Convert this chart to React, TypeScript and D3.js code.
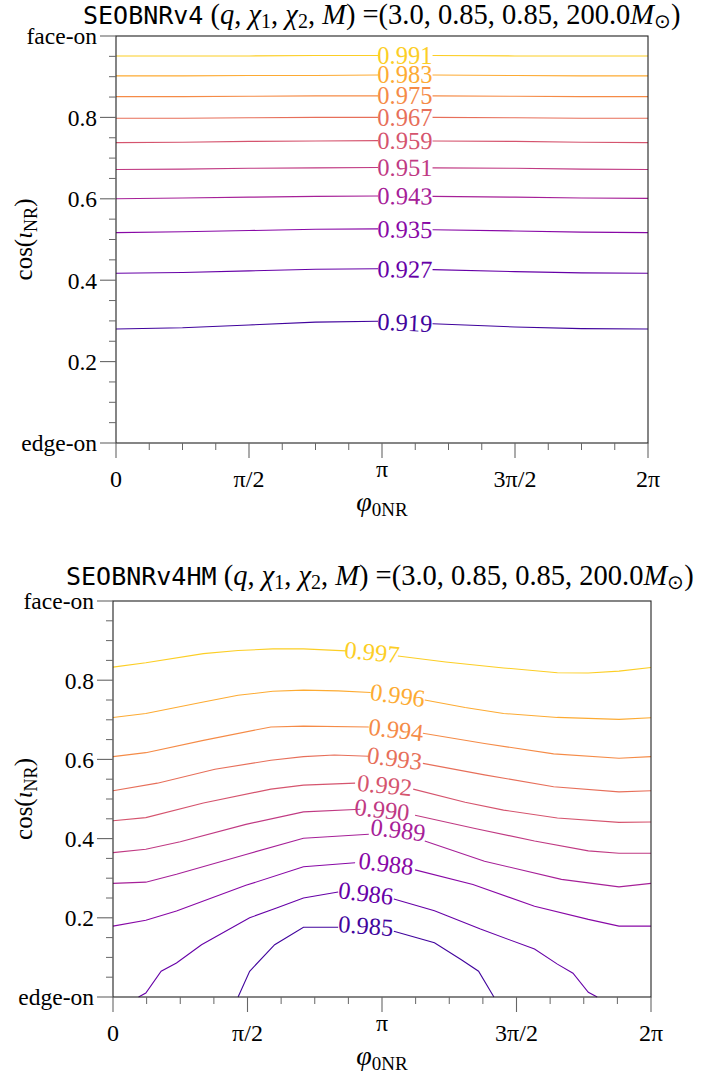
import React from "react";
import * as d3 from "d3";

type P = [number, number] | null;
const PI = Math.PI;

// ---------- Top panel (SEOBNRv4) ----------
const topLevels = [0.919, 0.927, 0.935, 0.943, 0.951, 0.959, 0.967, 0.975, 0.983, 0.991];
// phi samples in units of π; label gap lies between index 4 and 5
const topPhi = [0, 0.25, 0.5, 0.75, 0.985, 1.19, 1.5, 1.75, 2.0];
const topCos: number[][] = [
  [0.280, 0.283, 0.290, 0.297, 0.299, 0.293, 0.285, 0.281, 0.280],
  [0.417, 0.419, 0.423, 0.427, 0.428, 0.426, 0.421, 0.418, 0.417],
  [0.517, 0.519, 0.522, 0.525, 0.526, 0.524, 0.521, 0.518, 0.517],
  [0.600, 0.602, 0.604, 0.606, 0.607, 0.606, 0.604, 0.602, 0.601],
  [0.672, 0.673, 0.675, 0.676, 0.677, 0.676, 0.675, 0.673, 0.672],
  [0.738, 0.739, 0.741, 0.742, 0.743, 0.742, 0.741, 0.739, 0.738],
  [0.798, 0.798, 0.799, 0.800, 0.800, 0.800, 0.799, 0.798, 0.798],
  [0.851, 0.851, 0.852, 0.853, 0.853, 0.853, 0.852, 0.851, 0.851],
  [0.902, 0.902, 0.903, 0.903, 0.904, 0.904, 0.903, 0.902, 0.902],
  [0.951, 0.951, 0.951, 0.952, 0.952, 0.952, 0.951, 0.951, 0.951],
];
const topLabelPhi = [1.086, 1.086, 1.086, 1.086, 1.086, 1.086, 1.086, 1.086, 1.086, 1.086];
const topLabelCos = [0.296, 0.427, 0.525, 0.607, 0.677, 0.743, 0.800, 0.853, 0.904, 0.952];

// ---------- Bottom panel (SEOBNRv4HM) ----------
const botLevels = [0.985, 0.986, 0.988, 0.989, 0.990, 0.992, 0.993, 0.994, 0.996, 0.997];
// each contour: [phi/π, cos ι]; null marks the gap left for the inline label
const botLines: P[][] = [
  [[0.465, 0], [0.508, 0.065], [0.601, 0.132], [0.708, 0.176], [0.837, 0.176], null,
   [1.044, 0.166], [1.195, 0.137], [1.295, 0.094], [1.359, 0.065], [1.416, 0]],
  [[0.095, 0], [0.122, 0.010], [0.179, 0.065], [0.236, 0.086], [0.329, 0.132], [0.508, 0.200],
   [0.608, 0.225], [0.708, 0.250], [0.837, 0.265], null, [1.044, 0.2475], [1.195, 0.218],
   [1.366, 0.1715], [1.567, 0.121], [1.652, 0.083], [1.71, 0.060], [1.767, 0.012], [1.80, 0]],
  [[0, 0.179], [0.122, 0.194], [0.236, 0.217], [0.494, 0.282], [0.708, 0.329], [0.90, 0.339], null,
   [1.123, 0.321], [1.338, 0.284], [1.567, 0.229], [1.767, 0.196], [1.881, 0.179], [2.0, 0.179]],
  [[0, 0.287], [0.122, 0.290], [0.236, 0.310], [0.494, 0.360], [0.708, 0.401], [0.951, 0.411], null,
   [1.159, 0.394], [1.381, 0.343], [1.667, 0.297], [1.881, 0.278], [2.0, 0.287]],
  [[0, 0.3645], [0.122, 0.373], [0.25, 0.392], [0.494, 0.436], [0.708, 0.4675], [0.92, 0.474], null,
   [1.123, 0.459], [1.35, 0.425], [1.567, 0.394], [1.767, 0.369], [1.881, 0.363], [2.0, 0.363]],
  [[0, 0.445], [0.122, 0.453], [0.336, 0.490], [0.587, 0.525], [0.708, 0.535], [0.90, 0.540], null,
   [1.116, 0.525], [1.309, 0.492], [1.452, 0.472], [1.652, 0.452], [1.881, 0.441], [2.0, 0.442]],
  [[0, 0.521], [0.165, 0.540], [0.379, 0.575], [0.587, 0.598], [0.708, 0.607], [0.823, 0.611],
   [0.951, 0.608], null, [1.152, 0.590], [1.381, 0.561], [1.638, 0.531], [1.881, 0.518], [2.0, 0.521]],
  [[0, 0.607], [0.122, 0.617], [0.336, 0.648], [0.587, 0.682], [0.708, 0.684], [0.951, 0.682], null,
   [1.152, 0.666], [1.381, 0.640], [1.638, 0.614], [1.881, 0.603], [2.0, 0.607]],
  [[0, 0.706], [0.122, 0.716], [0.336, 0.745], [0.465, 0.762], [0.594, 0.772], [0.708, 0.775],
   [0.837, 0.773], [0.958, 0.769], null, [1.159, 0.750], [1.309, 0.731], [1.452, 0.716],
   [1.652, 0.706], [1.881, 0.701], [2.0, 0.705]],
  [[0, 0.833], [0.122, 0.844], [0.336, 0.867], [0.465, 0.875], [0.594, 0.879], [0.708, 0.879],
   [0.866, 0.874], null, [1.059, 0.861], [1.237, 0.846], [1.452, 0.831], [1.652, 0.819],
   [1.767, 0.818], [1.881, 0.823], [2.0, 0.832]],
];
const botLabelPhi = [0.94, 0.94, 1.015, 1.06, 1.0, 1.01, 1.047, 1.052, 1.058, 0.963];
const botLabelCos = [0.180, 0.262, 0.337, 0.422, 0.473, 0.535, 0.603, 0.675, 0.762, 0.871];

// ---------- Axes ----------
const yMajor = [0, 0.2, 0.4, 0.6, 0.8, 1.0];
const yMajorLabels = ["edge-on", "0.2", "0.4", "0.6", "0.8", "face-on"];
const yMinor = [0.05, 0.1, 0.15, 0.25, 0.3, 0.35, 0.45, 0.5, 0.55, 0.65, 0.7, 0.75, 0.85, 0.9, 0.95];
const xMajor = [0, 0.5, 1, 1.5, 2]; // units of π
const xMajorLabels = ["0", "π/2", "π", "3π/2", "2π"];
const xMinor = [0.125, 0.25, 0.375, 0.625, 0.75, 0.875, 1.125, 1.25, 1.375, 1.625, 1.75, 1.875];

const SERIF = "Liberation Serif";
const MONO = "DejaVu Sans Mono";

type PanelProps = {
  model: string;
  left: number; right: number; top: number; bottom: number;
  titleX: number;
  titleY: number;
  lines: P[][];
  levels: number[];
  labelPhi: number[];
  labelCos: number[];
};

function Panel(props: PanelProps) {
  const { model, left, right, top, bottom, titleX, titleY, lines, levels, labelPhi, labelCos } = props;
  const x = d3.scaleLinear().domain([0, 2 * PI]).range([left, right]);
  const y = d3.scaleLinear().domain([0, 1]).range([bottom, top]);
  const color = (i: number) => d3.interpolatePlasma(0.1 + (0.8 * i) / (levels.length - 1));
  const line = d3
    .line<P>()
    .defined((d) => d !== null)
    .x((d) => x((d as [number, number])[0] * PI))
    .y((d) => y((d as [number, number])[1]));
  const fmt = d3.format(".3f");
  const cx = (left + right) / 2;
  const cy = (top + bottom) / 2;
  const tickCol = "#666";
  const spineCol = "#222";

  return (
    <g style={{ fontFamily: SERIF }}>
      {/* title */}
      <text x={titleX} y={titleY} textAnchor="start" style={{ fontFamily: SERIF, fontSize: 28.5 }} fill="#000">
        <tspan style={{ fontFamily: MONO, fontSize: 25 }}>{model}</tspan>
        <tspan> (</tspan>
        <tspan fontStyle="italic">q</tspan>
        <tspan>, </tspan>
        <tspan fontStyle="italic">χ</tspan>
        <tspan fontSize={20} dy={4}>1</tspan>
        <tspan dy={-4}>, </tspan>
        <tspan fontStyle="italic">χ</tspan>
        <tspan fontSize={20} dy={4}>2</tspan>
        <tspan dy={-4}>, </tspan>
        <tspan fontStyle="italic">M</tspan>
        <tspan>) =(3.0, 0.85, 0.85, 200.0</tspan>
        <tspan fontStyle="italic">M</tspan>
        <tspan fontSize={20} dy={4}>⊙</tspan>
        <tspan dy={-4}>)</tspan>
      </text>

      {/* contour lines */}
      {lines.map((pts, i) => (
        <path key={"l" + i} d={line(pts) || ""} fill="none" stroke={color(i)} strokeWidth={1.1} />
      ))}
      {/* inline labels */}
      {lines.map((pts, i) => {
        const g = pts.indexOf(null);
        const a = pts[g - 1] as [number, number];
        const b = pts[g + 1] as [number, number];
        const ang =
          (Math.atan2(y(b[1]) - y(a[1]), x(b[0] * PI) - x(a[0] * PI)) * 180) / PI;
        const lx = x(labelPhi[i] * PI);
        const ly = y(labelCos[i]);
        return (
          <text
            key={"t" + i}
            transform={`translate(${lx},${ly}) rotate(${ang})`}
            textAnchor="middle"
            dy="0.34em"
            style={{ fontFamily: SERIF, fontSize: 24.5 }}
            fill={color(i)}
          >
            {fmt(levels[i])}
          </text>
        );
      })}

      {/* spines */}
      <rect x={left} y={top} width={right - left} height={bottom - top} fill="none" stroke={spineCol} strokeWidth={1.1} />

      {/* y ticks */}
      {yMajor.map((v, i) => (
        <g key={"ym" + i}>
          <line x1={left - 16} x2={left} y1={y(v)} y2={y(v)} stroke={tickCol} strokeWidth={1.1} />
          <text x={left - 19} y={y(v)} dy="0.36em" textAnchor="end" style={{ fontFamily: SERIF, fontSize: 23.5 }}>
            {yMajorLabels[i]}
          </text>
        </g>
      ))}
      {yMinor.map((v, i) => (
        <line key={"yn" + i} x1={left - 7} x2={left} y1={y(v)} y2={y(v)} stroke={tickCol} strokeWidth={1} />
      ))}

      {/* x ticks */}
      {xMajor.map((v, i) => (
        <g key={"xm" + i}>
          <line x1={x(v * PI)} x2={x(v * PI)} y1={bottom} y2={bottom + 15} stroke={tickCol} strokeWidth={1.1} />
          <text
            x={x(v * PI)}
            y={bottom + (xMajorLabels[i] === "π" ? 34 : 44)}
            textAnchor="middle"
            style={{ fontFamily: SERIF, fontSize: 24 }}
          >
            {xMajorLabels[i]}
          </text>
        </g>
      ))}
      {xMinor.map((v, i) => (
        <line key={"xn" + i} x1={x(v * PI)} x2={x(v * PI)} y1={bottom} y2={bottom + 7} stroke={tickCol} strokeWidth={1} />
      ))}

      {/* axis labels */}
      <text x={cx} y={bottom + 68} textAnchor="middle" style={{ fontFamily: SERIF, fontSize: 28 }}>
        <tspan fontStyle="italic">φ</tspan>
        <tspan fontSize={19} dy={5}>0NR</tspan>
      </text>
      <text transform={`translate(32,${cy}) rotate(-90)`} textAnchor="middle" style={{ fontFamily: SERIF, fontSize: 25 }}>
        <tspan>cos(</tspan>
        <tspan fontStyle="italic">ι</tspan>
        <tspan fontSize={18} dy={5}>NR</tspan>
        <tspan dy={-5}>)</tspan>
      </text>
    </g>
  );
}

export default function App() {
  const topLines: P[][] = topCos.map((c) => {
    const pts: P[] = topPhi.map((p, j) => [p, c[j]] as [number, number]);
    pts.splice(5, 0, null);
    return pts;
  });
  return (
    <svg width={701} height={1083} style={{ position: "absolute", left: 0, top: 0, background: "#fff" }}>
      <rect width={701} height={1083} fill="#fff" />
      <Panel
        model="SEOBNRv4"
        left={116}
        right={648}
        top={36}
        bottom={443}
        titleX={83}
        titleY={24}
        lines={topLines}
        levels={topLevels}
        labelPhi={topLabelPhi}
        labelCos={topLabelCos}
      />
      <Panel
        model="SEOBNRv4HM"
        left={113}
        right={651}
        top={601}
        bottom={997}
        titleX={66}
        titleY={585}
        lines={botLines}
        levels={botLevels}
        labelPhi={botLabelPhi}
        labelCos={botLabelCos}
      />
    </svg>
  );
}
